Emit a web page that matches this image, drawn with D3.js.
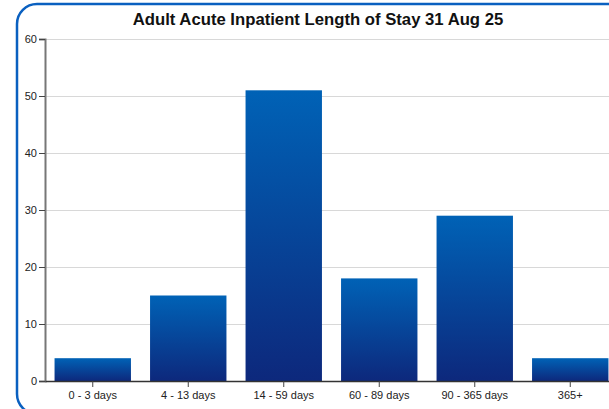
<!DOCTYPE html>
<html>
<head>
<meta charset="utf-8">
<script src="https://cdn.jsdelivr.net/npm/d3@7"></script>
<style>
    body { margin: 0; background: #fff; }
    svg { display: block; font-family: "Liberation Sans", Arial, sans-serif; }
    .grid line { stroke: #d8d8d8; stroke-width: 1; }
    .grid .domain { display: none; }
    .axis text { font-size: 11px; fill: #222; }
</style>
</head>
<body>
<div id="chart"></div>
<script>
var categories = ['0 - 3 days', '4 - 13 days', '14 - 59 days', '60 - 89 days', '90 - 365 days', '365+'];
var patients = [4, 15, 51, 18, 29, 4];
var yTicks = [0, 10, 20, 30, 40, 50, 60];
var title = 'Adult Acute Inpatient Length of Stay 31 Aug 25';

var width = 609, height = 409;
var plotLeft = 45, plotRight = 618, plotTop = 39, plotBottom = 381;

var svg = d3.select('#chart').append('svg')
    .attr('width', width)
    .attr('height', height);

var grad = svg.append('defs').append('linearGradient')
    .attr('id', 'bar-grad')
    .attr('x1', 0).attr('y1', 0)
    .attr('x2', 0).attr('y2', 1);
grad.append('stop').attr('offset', '0%').attr('stop-color', '#0062b6');
grad.append('stop').attr('offset', '100%').attr('stop-color', '#0d287c');

// frame
svg.append('rect')
    .attr('x', 17).attr('y', 4)
    .attr('width', 640).attr('height', 410)
    .attr('rx', 20).attr('ry', 20)
    .attr('fill', 'none')
    .attr('stroke', '#0a60c0')
    .attr('stroke-width', 2.5);

svg.append('text')
    .attr('x', 318)
    .attr('y', 25)
    .attr('text-anchor', 'middle')
    .attr('font-size', '16.7px')
    .attr('font-weight', 'bold')
    .attr('fill', '#111')
    .text(title);

var x = d3.scaleBand()
    .domain(categories)
    .range([plotLeft, plotRight])
    .paddingInner(0.2)
    .paddingOuter(0.1);

var y = d3.scaleLinear()
    .domain([0, 60])
    .range([plotBottom, plotTop]);

svg.append('g')
    .attr('class', 'grid')
    .attr('transform', 'translate(' + plotLeft + ',0)')
    .call(d3.axisRight(y).tickValues(yTicks.slice(1)).tickSize(width).tickFormat(''));

svg.selectAll('rect.bar').data(patients)
    .enter().append('rect')
    .attr('class', 'bar')
    .attr('x', function(d, i) { return x(categories[i]); })
    .attr('y', function(d) { return y(d); })
    .attr('width', x.bandwidth())
    .attr('height', function(d) { return y(0) - y(d); })
    .attr('fill', 'url(#bar-grad)');

var yAxis = svg.append('g')
    .attr('class', 'axis')
    .attr('transform', 'translate(' + plotLeft + ',0)')
    .call(d3.axisLeft(y).tickValues(yTicks).tickSize(6).tickPadding(2));
yAxis.select('.domain').attr('stroke', '#777').attr('stroke-width', 2);
yAxis.selectAll('.tick line').attr('stroke', '#444');

var xAxis = svg.append('g')
    .attr('class', 'axis')
    .attr('transform', 'translate(0,' + plotBottom + ')')
    .call(d3.axisBottom(x).tickSize(6).tickPadding(4).tickSizeOuter(0));
xAxis.select('.domain').attr('stroke', '#333').attr('stroke-width', 1.5);
xAxis.selectAll('.tick line').attr('stroke', '#444');
</script>
</body>
</html>
